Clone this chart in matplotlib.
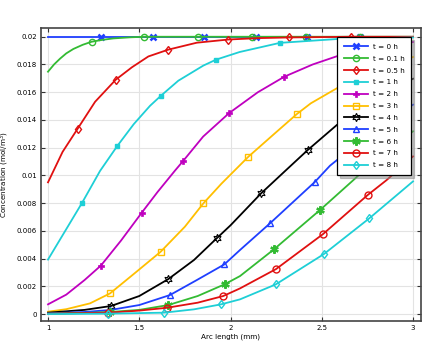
import matplotlib
matplotlib.use("Agg")
import matplotlib.pyplot as plt
from matplotlib.ticker import FuncFormatter, MultipleLocator

plt.rcParams['font.family'] = ['DejaVu Sans']

labels = ["t = 0 h", "t = 0.1 h", "t = 0.5 h", "t = 1 h", "t = 2 h", "t = 3 h",
          "t = 4 h", "t = 5 h", "t = 6 h", "t = 7 h", "t = 8 h"]

x_t0 = [1.0, 1.29, 1.575, 1.855, 2.14, 2.42, 2.71, 3.0]
y_t0 = [0.02, 0.02, 0.02, 0.02, 0.02, 0.02, 0.02, 0.02]
m_t0 = [1, 2, 3, 4, 5, 6]

x_t01 = [1.0, 1.033, 1.066, 1.1, 1.139, 1.19, 1.239, 1.3, 1.358, 1.45, 1.528,
         1.822, 2.116, 2.414, 2.71, 3.0]
y_t01 = [0.01748, 0.01800, 0.01842, 0.01880, 0.01912, 0.01942, 0.01964, 0.01978,
         0.01988, 0.01996, 0.0200, 0.0200, 0.0200, 0.0200, 0.0200, 0.0200]
m_t01 = [6, 10, 11, 12, 13, 14]

x_t05 = [1.0, 1.08, 1.163, 1.258, 1.371, 1.46, 1.55, 1.659, 1.815, 1.988, 2.15,
         2.322, 2.659, 3.0]
y_t05 = [0.0095, 0.0117, 0.01338, 0.01531, 0.01690, 0.0178, 0.01858, 0.01907,
         0.01957, 0.01980, 0.0199, 0.01995, 0.0200, 0.0200]
m_t05 = [2, 4, 7, 9, 11, 12]

x_t1 = [1.0, 1.187, 1.285, 1.38, 1.47, 1.559, 1.619, 1.714, 1.851, 1.921, 2.05,
        2.271, 2.6, 3.0]
y_t1 = [0.00393, 0.00803, 0.01032, 0.01213, 0.0137, 0.01502, 0.01575, 0.01683,
        0.01792, 0.01835, 0.0189, 0.01956, 0.01985, 0.01995]
m_t1 = [1, 3, 6, 9, 11]

x_t2 = [1.0, 1.1, 1.2, 1.29, 1.4, 1.513, 1.6, 1.696, 1.741, 1.85, 1.992, 2.15,
        2.295, 2.45, 2.582, 2.8, 3.0]
y_t2 = [0.0007, 0.0014, 0.00245, 0.0035, 0.0053, 0.0073, 0.0088, 0.01035,
        0.01105, 0.0128, 0.01449, 0.0160, 0.01712, 0.0180, 0.01859, 0.0192, 0.01962]
m_t2 = [3, 5, 8, 10, 12]

x_t3 = [1.0, 1.1, 1.23, 1.34, 1.48, 1.617, 1.75, 1.851, 1.95, 2.098, 2.24,
        2.363, 2.44, 2.582, 2.8, 3.0]
y_t3 = [0.00017, 0.00035, 0.00077, 0.00149, 0.0030, 0.00449, 0.0063, 0.00798,
        0.0094, 0.01135, 0.0130, 0.01442, 0.0152, 0.01628, 0.0175, 0.01854]
m_t3 = [3, 5, 7, 9, 11]

x_t4 = [1.0, 1.2, 1.345, 1.5, 1.659, 1.8, 1.924, 2.0, 2.168, 2.305, 2.423,
        2.582, 2.8, 3.0]
y_t4 = [0.0001, 0.0003, 0.00058, 0.0013, 0.00252, 0.0039, 0.00546, 0.0064,
        0.00871, 0.01039, 0.01183, 0.01363, 0.0157, 0.01697]
m_t4 = [2, 4, 6, 8, 10]

x_t5 = [1.0, 1.2, 1.34, 1.5, 1.668, 1.815, 1.966, 2.052, 2.216, 2.463, 2.545,
        2.8, 3.0]
y_t5 = [0.00005, 0.00015, 0.00029, 0.00065, 0.00137, 0.00245, 0.00358, 0.00462,
        0.00654, 0.00954, 0.0107, 0.0134, 0.0151]
m_t5 = [2, 4, 6, 8, 9]

x_t6 = [1.0, 1.2, 1.34, 1.5, 1.659, 1.82, 1.97, 2.052, 2.24, 2.49, 2.673, 2.8, 3.0]
y_t6 = [0.00003, 0.00008, 0.00015, 0.0003, 0.00065, 0.0013, 0.00216, 0.00274,
        0.00469, 0.0075, 0.00966, 0.0112, 0.01318]
m_t6 = [2, 4, 6, 8, 9]

x_t7 = [1.0, 1.33, 1.5, 1.65, 1.82, 1.96, 2.052, 2.25, 2.507, 2.751, 2.855, 3.0]
y_t7 = [0.00002, 0.0001, 0.00025, 0.00045, 0.00082, 0.0013, 0.00185, 0.00325,
        0.00577, 0.00858, 0.00966, 0.01137]
m_t7 = [1, 3, 5, 7, 8, 9]

x_t8 = [1.0, 1.33, 1.636, 1.8, 1.948, 2.052, 2.248, 2.512, 2.76, 3.0]
y_t8 = [0.0, 0.00003, 0.0001, 0.00034, 0.0007, 0.00106, 0.00214, 0.00433,
        0.0069, 0.00957]
m_t8 = [1, 2, 4, 6, 7, 8]

series = [
    (x_t0, y_t0, m_t0, "#1f3fff", dict(marker="x", ms=5, mew=1.8)),
    (x_t01, y_t01, m_t01, "#33bb33", dict(marker="o", ms=4.5, mfc="none", mew=1.0)),
    (x_t05, y_t05, m_t05, "#e01010", dict(marker="d", ms=4.5, mfc="none", mew=1.0)),
    (x_t1, y_t1, m_t1, "#1ecfd6", dict(marker="s", ms=3.5, mew=1.0)),
    (x_t2, y_t2, m_t2, "#bf00bf", dict(marker="P", ms=5, mew=0.5)),
    (x_t3, y_t3, m_t3, "#ffbf00", dict(marker="s", ms=5, mfc="none", mew=1.0)),
    (x_t4, y_t4, m_t4, "#000000", dict(marker=(6, 1, 0), ms=6, mfc="none", mew=0.8)),
    (x_t5, y_t5, m_t5, "#1f3fff", dict(marker="^", ms=5, mfc="none", mew=1.0)),
    (x_t6, y_t6, m_t6, "#33bb33", dict(marker=(6, 2, 0), ms=6, mew=1.6)),
    (x_t7, y_t7, m_t7, "#e01010", dict(marker="o", ms=5, mfc="none", mew=1.0)),
    (x_t8, y_t8, m_t8, "#1ecfd6", dict(marker="d", ms=4.5, mfc="none", mew=1.0)),
]

fig = plt.figure(figsize=(4.38, 3.45), dpi=100)
ax = fig.add_axes([0.0936, 0.0704, 0.8669, 0.8484])

for (xs, ys, marks, color, mstyle), lab in zip(series, labels):
    ax.plot(xs, ys, color=color, lw=1.3, markevery=marks, mec=color, label=lab,
            **mstyle)

ax.set_xlim(0.9616, 3.042)
ax.set_ylim(-0.00048, 0.02063)
ax.xaxis.set_major_locator(MultipleLocator(0.5))
ax.yaxis.set_major_locator(MultipleLocator(0.002))
ax.xaxis.set_major_formatter(FuncFormatter(lambda v, p: "%g" % round(v, 4)))
ax.yaxis.set_major_formatter(FuncFormatter(lambda v, p: "%g" % round(v, 5)))

ax.grid(True, color="#e3e3e3", lw=0.8)
ax.set_axisbelow(True)
ax.tick_params(direction="in", length=3, width=0.8, top=True, right=True,
               labelsize=5, pad=3, color="#333333")
for sp in ax.spines.values():
    sp.set_color("#444444")
    sp.set_linewidth(1.2)

ax.set_xlabel("Arc length (mm)", fontsize=5.2, labelpad=2)
ax.set_ylabel("Concentration (mol/m$^3$)", fontsize=5.2, labelpad=4)

leg = ax.legend(loc="upper right", bbox_to_anchor=(0.974, 0.968), borderaxespad=0,
                fontsize=5.2, handlelength=3.4, handletextpad=0.6, labelspacing=0.8,
                borderpad=0.9, fancybox=False, shadow=dict(color="#888888"),
                framealpha=1, edgecolor="black")
leg.get_frame().set_linewidth(0.9)

fig.savefig("out.png", dpi=100)
